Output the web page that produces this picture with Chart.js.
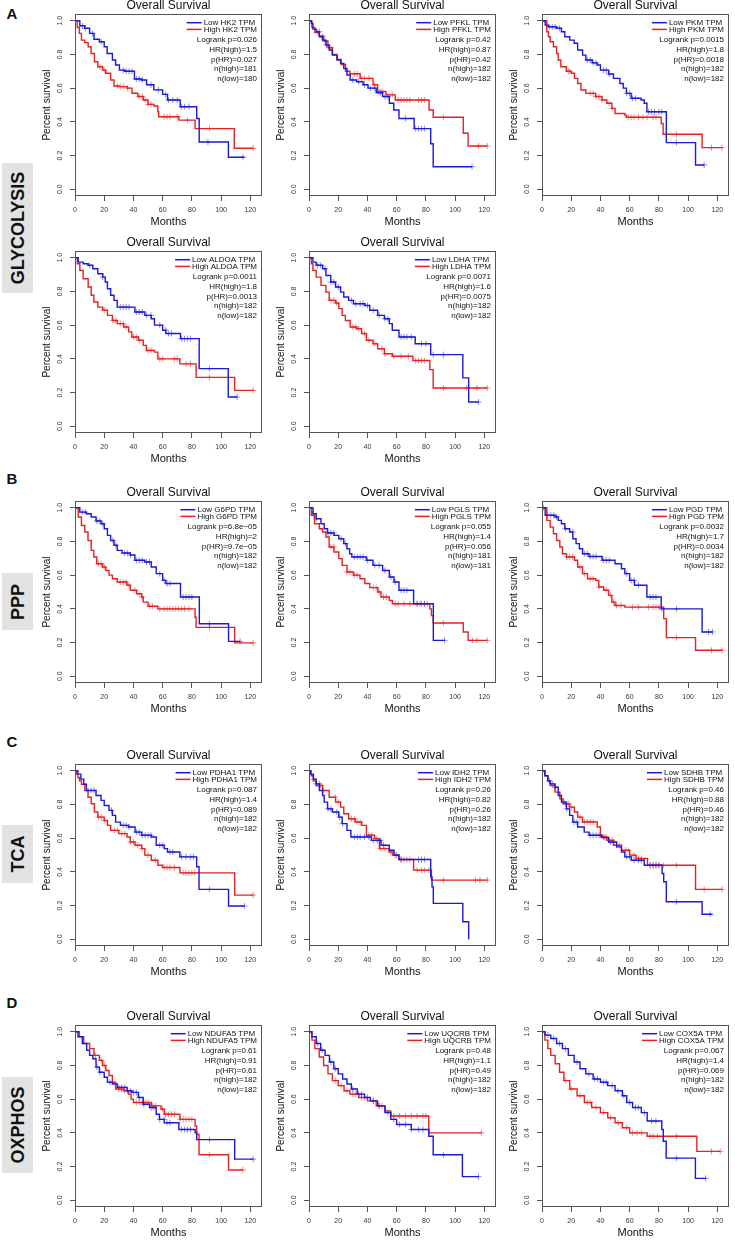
<!DOCTYPE html>
<html>
<head>
<meta charset="utf-8">
<script src="https://cdn.jsdelivr.net/npm/chart.js@4.4.0/dist/chart.umd.min.js"></script>
<style>
  body { margin: 0; background: #fff; width: 735px; height: 1240px; position: relative; overflow: hidden;
         font-family: "Liberation Sans", Arial, sans-serif; }
  canvas { position: absolute; }
  .sec { position: absolute; font-weight: bold; font-size: 15px; color: #111; transform: translate(-50%, -50%); }
  .grp { position: absolute; left: 2px; width: 31px; background: #e2e2e2; }
  .grp span { position: absolute; left: 50%; top: 50%; transform: translate(-50%, -50%) rotate(-90deg);
              font-weight: bold; font-size: 18px; color: #111; white-space: nowrap; }
</style>
</head>
<body>
<div class="sec" style="left:12px;top:13px">A</div>
<div class="sec" style="left:12px;top:478px">B</div>
<div class="sec" style="left:12px;top:741px">C</div>
<div class="sec" style="left:12px;top:1002px">D</div>
<div class="grp" style="top:163px;height:130px"><span>GLYCOLYSIS</span></div>
<div class="grp" style="top:573px;height:57px"><span>PPP</span></div>
<div class="grp" style="top:825px;height:58px"><span>TCA</span></div>
<div class="grp" style="top:1077px;height:96px"><span>OXPHOS</span></div>

<script>
const FONT = '"Liberation Sans", Arial, sans-serif';
const BLUE = '#1a1ad8';
const RED = '#e52222';
const BLUE_C = 'rgba(40,40,230,0.55)';
const RED_C = 'rgba(235,40,40,0.55)';

const xTicks = [0, 20, 40, 60, 80, 100, 120];
const yTicks = [0, 0.2, 0.4, 0.6, 0.8, 1.0];

// [month, survival] at each drop (last pair = end of follow-up); censor times in months
const hk2Low = [[0,1],[3.3,0.97],[6.7,0.955],[10,0.925],[13,0.89],[16.7,0.875],[20,0.846],[22,0.806],[25.6,0.767],[27.8,0.737],[30.4,0.707],[34,0.70],[40.7,0.654],[45.6,0.648],[49,0.62],[54,0.59],[60,0.563],[63.3,0.53],[72,0.49],[83.3,0.42],[85,0.28],[105,0.19],[116,0.19]];
const hk2LowCens = [5,7,12,18,33,35,37,39,42,44,46,52,57,62,64,67,70,73,75,78,91,115];
const hk2High = [[0,1],[1.5,0.96],[3,0.925],[4.4,0.885],[6.7,0.87],[9,0.846],[11,0.806],[13.3,0.757],[15.6,0.727],[19,0.707],[21,0.688],[24.4,0.648],[26.7,0.613],[30,0.609],[35.6,0.6],[39,0.57],[43,0.55],[46.7,0.53],[50,0.504],[54,0.494],[56.7,0.46],[57.3,0.43],[71.1,0.41],[82.2,0.36],[109,0.243],[122,0.243]];
const hk2HighCens = [17,20,29,31,33,36,44,46,48,50,52,61,63,65,70,77,92,122];
const hk2Stats = ['Logrank p=0.026', 'HR(high)=1.5', 'p(HR)=0.027', 'n(high)=181', 'n(low)=180'];

const pfklLow = [[0,1],[1.6,0.984],[2.7,0.95],[4.9,0.935],[7.1,0.905],[9.3,0.885],[11.6,0.856],[13.8,0.826],[16,0.796],[19.3,0.767],[21.6,0.747],[23.8,0.717],[26,0.678],[28.2,0.648],[32.7,0.638],[37,0.62],[40.4,0.6],[46,0.573],[50.4,0.55],[55,0.51],[58,0.47],[61.6,0.42],[72,0.36],[83.3,0.27],[85,0.134],[111.6,0.134]];
const pfklLowCens = [7,9,12,30,34,38,42,45,49,52,54,66,73,75,77,79,111.6];
const pfklHigh = [[0,1],[2,0.96],[4,0.93],[7,0.91],[10,0.88],[13,0.84],[16,0.8],[19,0.77],[22,0.74],[25,0.7],[28,0.685],[35,0.658],[43.8,0.62],[47,0.58],[52.7,0.56],[59,0.53],[82.2,0.47],[85,0.427],[105.6,0.332],[108.9,0.257],[122,0.257]];
const pfklHighCens = [6,11,15,31,33,36,38,41,45,48,50,57,61,63,65,67,69,75,77,79,92,116,122];
const pfklStats = ['Logrank p=0.42', 'HR(high)=0.87', 'p(HR)=0.42', 'n(high)=182', 'n(low)=182'];

const pkmLow = [[0,1],[2.2,0.974],[4.4,0.964],[10,0.955],[13.3,0.935],[15.6,0.905],[19,0.885],[22,0.866],[24.4,0.826],[27.8,0.796],[30,0.767],[34.4,0.75],[37.8,0.737],[40,0.707],[45.6,0.684],[48.9,0.658],[53.3,0.628],[55.6,0.6],[57.8,0.569],[61,0.54],[67.8,0.53],[70,0.51],[71.8,0.46],[85.1,0.277],[105.1,0.144],[111,0.144]];
const pkmLowCens = [5,7,9,12,31,33,35,37,42,44,46,58,60,62,64,73,75,77,80,82,92,111];
const pkmHigh = [[0,1],[3.3,0.935],[4.4,0.905],[5.6,0.875],[7.8,0.846],[10,0.806],[11.1,0.767],[12.9,0.727],[16.7,0.7],[20,0.688],[22.2,0.658],[24.4,0.628],[26.7,0.589],[30,0.569],[36.7,0.55],[41,0.53],[44.4,0.51],[47.8,0.48],[50,0.45],[56.7,0.44],[57.8,0.427],[81.6,0.39],[82.9,0.326],[109.6,0.247],[123.3,0.247]];
const pkmHighCens = [18,19,33,35,37,39,41,46,48,59,61,63,66,69,72,76,78,92,116,123.3];
const pkmStats = ['Logrank p=0.0015', 'HR(high)=1.8', 'p(HR)=0.0018', 'n(high)=182', 'n(low)=182'];

const aldoaLow = [[0,1],[2.2,0.974],[5.6,0.964],[9,0.955],[12.2,0.935],[15.6,0.905],[19,0.885],[20.7,0.856],[22.2,0.816],[24.4,0.777],[26.7,0.747],[28.9,0.707],[41,0.678],[47.8,0.658],[52.2,0.638],[54.4,0.6],[60,0.57],[62.2,0.55],[72.2,0.52],[85,0.342],[104.9,0.174],[111,0.174]];
const aldoaLowCens = [10,19,31,33,35,37,42,44,46,49,52,58,62,64,66,73,75,77,79,92,111];
const aldoaHigh = [[0,1],[1.6,0.964],[3.3,0.925],[5.6,0.875],[9,0.826],[11.1,0.777],[12.9,0.737],[15.6,0.707],[19,0.688],[22.2,0.658],[25.6,0.628],[28.9,0.609],[33.3,0.589],[36.7,0.56],[38.9,0.53],[43.3,0.51],[46.7,0.48],[48.9,0.45],[54.4,0.44],[56.7,0.4],[71.8,0.37],[82.9,0.29],[109.3,0.213],[122,0.213]];
const aldoaHighCens = [20,26,28,31,33,35,40,42,44,50,52,58,60,68,70,76,79,92,122];
const aldoaStats = ['Logrank p=0.0011', 'HR(high)=1.8', 'p(HR)=0.0013', 'n(high)=182', 'n(low)=182'];

const ldhaLow = [[0,1],[2.7,0.974],[4.9,0.955],[9.3,0.935],[11.6,0.895],[14.9,0.856],[18.2,0.826],[21.6,0.796],[23.8,0.767],[27.1,0.747],[30.4,0.727],[38.2,0.717],[41.6,0.688],[47,0.658],[51.6,0.638],[55,0.609],[57,0.57],[61.6,0.53],[72.7,0.49],[83.3,0.425],[105.3,0.287],[109.3,0.144],[116,0.144]];
const ldhaLowCens = [6,8,11,15,17,20,29,32,35,37,40,44,48,52,54,63,65,67,70,77,80,85,92,116];
const ldhaHigh = [[0,1],[1.6,0.964],[2.7,0.925],[4.9,0.885],[8.2,0.836],[11.6,0.796],[13.8,0.747],[18.2,0.731],[20.4,0.698],[22.7,0.658],[24.9,0.628],[28.2,0.589],[32.7,0.579],[36,0.55],[39.3,0.51],[43.8,0.49],[47,0.46],[51.6,0.43],[57,0.415],[71.1,0.39],[82.7,0.336],[85,0.227],[122,0.227]];
const ldhaHighCens = [15,17,19,30,32,34,38,41,45,50,52,58,63,68,73,75,77,79,92,108,115,122];
const ldhaStats = ['Logrank p=0.0071', 'HR(high)=1.6', 'p(HR)=0.0075', 'n(high)=182', 'n(low)=182'];

const g6pdLow = [[0,1],[3.3,0.974],[7.8,0.964],[11.1,0.945],[14.4,0.921],[17.8,0.905],[20,0.875],[22.2,0.836],[24.4,0.806],[26.7,0.777],[28.9,0.747],[32.2,0.731],[37.8,0.72],[41,0.688],[47.8,0.678],[52.2,0.648],[55.6,0.609],[60,0.569],[62.2,0.55],[72.2,0.47],[85.1,0.312],[105.1,0.207],[113,0.207]];
const g6pdLowCens = [5,7,15,17,19,26,28,34,36,38,42,44,46,49,51,58,61,63,65,74,76,78,80,92,113];
const g6pdHigh = [[0,1],[2.2,0.945],[4.4,0.895],[6.7,0.856],[8.9,0.806],[11.1,0.747],[12.9,0.708],[14.9,0.668],[18.9,0.648],[21.1,0.628],[23.3,0.6],[25.6,0.579],[28.9,0.559],[35.6,0.54],[37.8,0.51],[42.2,0.49],[45.6,0.47],[46.7,0.44],[50,0.415],[56.7,0.4],[82.2,0.35],[82.9,0.29],[109.3,0.198],[122,0.198]];
const g6pdHighCens = [16,18,20,31,33,35,37,41,44,46,51,53,58,61,63,65,67,69,71,73,75,78,92,122];
const g6pdStats = ['Logrank p=6.8e\u221205', 'HR(high)=2', 'p(HR)=9.7e\u221205', 'n(high)=182', 'n(low)=182'];

const pglsLow = [[0,1],[2.7,0.964],[4.9,0.935],[8.2,0.905],[10.4,0.875],[12.7,0.85],[17.1,0.836],[20.4,0.816],[23.8,0.787],[26,0.757],[27.8,0.727],[29.3,0.708],[39.3,0.688],[43.8,0.658],[50.4,0.628],[55,0.589],[58.2,0.559],[61.6,0.51],[71.6,0.43],[85.1,0.213],[92.7,0.213]];
const pglsLowCens = [3,5,13,15,17,22,25,31,33,35,37,40,45,48,52,56,59,63,65,67,74,76,79,81,92.7];
const pglsHigh = [[0,1],[1.6,0.955],[3.8,0.905],[7.1,0.875],[9.3,0.856],[11.6,0.826],[13.8,0.767],[17.1,0.737],[20.4,0.698],[22.7,0.658],[26,0.619],[30.4,0.6],[34.9,0.579],[38.2,0.55],[41.6,0.526],[47.1,0.5],[49.3,0.47],[55,0.45],[57.1,0.43],[82.7,0.4],[83.8,0.36],[85,0.316],[105.6,0.263],[108.9,0.213],[122,0.213]];
const pglsHighCens = [15,17,26,28,31,33,44,46,48,51,53,59,61,65,69,74,77,79,92,112,115,122];
const pglsStats = ['Logrank p=0.055', 'HR(high)=1.4', 'p(HR)=0.056', 'n(high)=181', 'n(low)=181'];

const pgdLow = [[0,1],[2.2,0.955],[8.9,0.945],[11.1,0.925],[13.3,0.905],[15.6,0.875],[18.9,0.856],[21.1,0.816],[23.3,0.787],[25.6,0.757],[27.8,0.727],[32.2,0.711],[41.1,0.688],[50,0.668],[54.4,0.638],[56.7,0.609],[60,0.569],[63.3,0.54],[71.8,0.47],[81.6,0.4],[109.6,0.263],[116.7,0.263]];
const pgdLowCens = [4,6,8,10,16,21,29,31,33,35,37,42,44,46,58,61,63,66,74,76,78,82,92,114,116.7];
const pgdHigh = [[0,1],[3.3,0.925],[5.6,0.885],[7.8,0.846],[10,0.806],[12.2,0.767],[14,0.727],[16.7,0.708],[22.2,0.688],[24.4,0.648],[27.8,0.609],[31.1,0.579],[36.7,0.569],[38.9,0.53],[42.2,0.51],[45.6,0.48],[47.8,0.44],[50,0.42],[56.7,0.41],[83.3,0.342],[85.1,0.229],[105.1,0.154],[123.3,0.154]];
const pgdHighCens = [1,17,19,21,26,29,33,35,39,44,47,49,51,54,62,66,73,76,78,80,92,116,123.3];
const pgdStats = ['Logrank p=0.0032', 'HR(high)=1.7', 'p(HR)=0.0034', 'n(high)=182', 'n(low)=182'];

const pdha1Low = [[0,1],[2,0.98],[4,0.95],[6,0.92],[7.8,0.883],[14.4,0.853],[17.8,0.824],[20,0.794],[23.3,0.765],[25.6,0.735],[27.8,0.695],[31.1,0.676],[36.7,0.666],[41.1,0.636],[45.6,0.617],[52.2,0.607],[55.6,0.558],[61.1,0.538],[63.3,0.518],[71.8,0.489],[83.3,0.43],[84.9,0.296],[105.1,0.197],[116,0.197]];
const pdha1LowCens = [9,11,13,25,33,35,37,42,44,46,48,50,52,58,60,65,67,73,76,79,81,92,116];
const pdha1High = [[0,1],[1,0.98],[2,0.96],[3,0.94],[4.4,0.92],[6.7,0.883],[8.9,0.843],[11.1,0.804],[13.3,0.755],[15.6,0.725],[20,0.705],[22.2,0.676],[24.4,0.646],[30,0.627],[35.6,0.607],[37.8,0.577],[41.1,0.558],[45.6,0.538],[47.8,0.499],[52.2,0.469],[56.7,0.439],[60,0.426],[71.8,0.394],[109.3,0.262],[122,0.262]];
const pdha1HighCens = [16,18,20,27,29,32,34,38,40,43,46,50,55,61,63,65,68,74,76,78,80,82,122];
const pdha1Stats = ['Logrank p=0.087', 'HR(high)=1.4', 'p(HR)=0.089', 'n(high)=182', 'n(low)=182'];

const idh2Low = [[0,1],[1,0.98],[3,0.95],[4.9,0.922],[7.1,0.883],[9.3,0.853],[10.4,0.814],[12.7,0.774],[16,0.755],[20.4,0.725],[22.7,0.686],[26,0.646],[28.7,0.607],[42.7,0.587],[49.3,0.558],[54.9,0.528],[58.2,0.499],[61.6,0.473],[83.3,0.37],[84.2,0.311],[85.1,0.213],[105.3,0.104],[109.3,0]];
const idh2LowCens = [3,5,7,13,15,19,21,23,31,33,35,38,41,44,47,49,51,60,63,75,77,79];
const idh2High = [[0,1],[1.5,0.97],[3,0.94],[4.9,0.912],[9.3,0.883],[13.8,0.843],[18.2,0.814],[21.6,0.784],[23.8,0.745],[27.1,0.715],[31.6,0.696],[36,0.676],[39.3,0.617],[44.9,0.597],[48.2,0.538],[54.9,0.518],[57.1,0.499],[61.6,0.473],[71.6,0.41],[83.8,0.351],[122,0.351]];
const idh2HighCens = [8,10,18,20,29,31,33,35,41,43,46,49,52,56,59,63,65,67,69,74,77,79,82,92,114,117,122];
const idh2Stats = ['Logrank p=0.26', 'HR(high)=0.82', 'p(HR)=0.26', 'n(high)=182', 'n(low)=182'];

const sdhbLow = [[0,1],[2,0.97],[4,0.94],[5.6,0.922],[8.9,0.902],[11.1,0.853],[13.3,0.814],[16.7,0.774],[18.9,0.735],[21.1,0.695],[24.4,0.666],[28.9,0.636],[32.2,0.617],[41.1,0.603],[45.6,0.577],[51.1,0.548],[54.4,0.518],[56.7,0.489],[61.1,0.469],[70,0.439],[82.2,0.39],[83.3,0.341],[85.1,0.223],[109.6,0.148],[116.7,0.148]];
const sdhbLowCens = [5,7,9,15,17,22,24,33,35,37,39,43,47,49,58,60,63,66,68,74,76,78,80,92,115];
const sdhbHigh = [[0,1],[2,0.97],[4,0.94],[5.6,0.912],[8.9,0.873],[12.2,0.833],[14.4,0.804],[18.9,0.784],[22.2,0.755],[24.4,0.725],[27.8,0.696],[37.8,0.666],[40,0.607],[44.4,0.587],[48.9,0.558],[54.4,0.528],[60,0.499],[64.4,0.479],[72.2,0.439],[105.1,0.296],[123.3,0.296]];
const sdhbHighCens = [16,18,20,26,29,31,33,35,42,44,46,48,51,53,57,59,63,66,68,74,76,78,80,83,92,111,123.3];
const sdhbStats = ['Logrank p=0.46', 'HR(high)=0.88', 'p(HR)=0.46', 'n(high)=182', 'n(low)=182'];

const ndufa5Low = [[0,1],[2,0.97],[5,0.93],[8,0.89],[10,0.86],[12.2,0.84],[14.4,0.79],[16.7,0.76],[20,0.73],[22.2,0.70],[25.6,0.69],[28.9,0.67],[35.6,0.65],[38.9,0.64],[43.3,0.61],[46.7,0.57],[51.1,0.55],[55.6,0.51],[57.8,0.48],[61.1,0.46],[71.1,0.42],[82.2,0.40],[83.3,0.36],[109.3,0.244],[122,0.244]];
const ndufa5LowCens = [15,17,24,30,32,34,36,38,40,42,44,47,52,54,58,61,63,65,73,75,77,79,92,122];
const ndufa5High = [[0,1],[3,0.97],[6,0.93],[10,0.9],[13,0.86],[16.7,0.83],[18.9,0.80],[21.1,0.77],[23.3,0.74],[25.6,0.70],[27.8,0.66],[33.3,0.65],[36.7,0.63],[38.4,0.60],[40,0.58],[52.2,0.56],[58.9,0.54],[61.1,0.51],[71.8,0.48],[82.2,0.44],[83.3,0.39],[84.9,0.27],[105.1,0.18],[115,0.18]];
const ndufa5HighCens = [14,18,20,30,32,34,36,42,44,46,48,50,53,55,60,62,64,66,68,72,74,76,78,80,92,115];
const ndufa5Stats = ['Logrank p=0.61', 'HR(high)=0.91', 'p(HR)=0.61', 'n(high)=182', 'n(low)=182'];

const uqcrbLow = [[0,1],[2,0.97],[5,0.93],[8,0.89],[11,0.86],[14,0.82],[17,0.78],[20,0.75],[23,0.72],[26,0.69],[29,0.66],[33,0.63],[38,0.61],[42,0.59],[47,0.56],[52,0.52],[56,0.48],[60,0.45],[70,0.42],[82,0.38],[85,0.27],[105,0.14],[116,0.14]];
const uqcrbLowCens = [6,9,15,18,30,34,36,40,44,48,54,58,62,66,70,75,78,92,116];
const uqcrbHigh = [[0,1],[2,0.95],[4,0.9],[7,0.85],[10,0.8],[13,0.75],[16,0.71],[20,0.68],[24,0.65],[28,0.63],[34,0.61],[40,0.59],[46,0.56],[52,0.53],[56,0.5],[82,0.4],[118,0.4]];
const uqcrbHighCens = [18,22,26,30,32,36,38,44,48,50,58,62,66,70,74,78,80,118];
const uqcrbStats = ['Logrank p=0.48', 'HR(high)=1.1', 'p(HR)=0.49', 'n(high)=182', 'n(low)=182'];

const cox5aLow = [[0,1],[2,0.98],[6,0.96],[10,0.93],[14,0.9],[18,0.86],[22,0.82],[26,0.78],[30,0.75],[35,0.72],[40,0.7],[45,0.68],[50,0.65],[55,0.62],[58,0.58],[62,0.55],[68,0.52],[72,0.47],[82,0.42],[83,0.35],[85,0.25],[105,0.13],[112,0.13]];
const cox5aLowCens = [4,8,12,16,24,32,36,38,42,44,48,52,56,60,64,66,70,75,78,92,112];
const cox5aHigh = [[0,1],[2,0.95],[4,0.9],[6,0.86],[9,0.81],[12,0.76],[15,0.71],[19,0.66],[24,0.62],[29,0.58],[34,0.55],[40,0.52],[45,0.49],[50,0.46],[55,0.43],[60,0.4],[72,0.38],[106,0.29],[122,0.29]];
const cox5aHighCens = [16,20,26,31,33,37,42,47,52,58,62,65,68,74,76,79,92,116,122];
const cox5aStats = ['Logrank p=0.067', 'HR(high)=1.4', 'p(HR)=0.069', 'n(high)=182', 'n(low)=182'];

const panels = [
  { gene: 'HK2', row: 0, col: 0, low: hk2Low, lowCens: hk2LowCens, high: hk2High, highCens: hk2HighCens, stats: hk2Stats },
  { gene: 'PFKL', row: 0, col: 1, low: pfklLow, lowCens: pfklLowCens, high: pfklHigh, highCens: pfklHighCens, stats: pfklStats },
  { gene: 'PKM', row: 0, col: 2, low: pkmLow, lowCens: pkmLowCens, high: pkmHigh, highCens: pkmHighCens, stats: pkmStats },
  { gene: 'ALDOA', row: 1, col: 0, low: aldoaLow, lowCens: aldoaLowCens, high: aldoaHigh, highCens: aldoaHighCens, stats: aldoaStats },
  { gene: 'LDHA', row: 1, col: 1, low: ldhaLow, lowCens: ldhaLowCens, high: ldhaHigh, highCens: ldhaHighCens, stats: ldhaStats },
  { gene: 'G6PD', row: 2, col: 0, low: g6pdLow, lowCens: g6pdLowCens, high: g6pdHigh, highCens: g6pdHighCens, stats: g6pdStats },
  { gene: 'PGLS', row: 2, col: 1, low: pglsLow, lowCens: pglsLowCens, high: pglsHigh, highCens: pglsHighCens, stats: pglsStats },
  { gene: 'PGD', row: 2, col: 2, low: pgdLow, lowCens: pgdLowCens, high: pgdHigh, highCens: pgdHighCens, stats: pgdStats },
  { gene: 'PDHA1', row: 3, col: 0, low: pdha1Low, lowCens: pdha1LowCens, high: pdha1High, highCens: pdha1HighCens, stats: pdha1Stats },
  { gene: 'IDH2', row: 3, col: 1, low: idh2Low, lowCens: idh2LowCens, high: idh2High, highCens: idh2HighCens, stats: idh2Stats },
  { gene: 'SDHB', row: 3, col: 2, low: sdhbLow, lowCens: sdhbLowCens, high: sdhbHigh, highCens: sdhbHighCens, stats: sdhbStats },
  { gene: 'NDUFA5', row: 4, col: 0, low: ndufa5Low, lowCens: ndufa5LowCens, high: ndufa5High, highCens: ndufa5HighCens, stats: ndufa5Stats },
  { gene: 'UQCRB', row: 4, col: 1, low: uqcrbLow, lowCens: uqcrbLowCens, high: uqcrbHigh, highCens: uqcrbHighCens, stats: uqcrbStats },
  { gene: 'COX5A', row: 4, col: 2, low: cox5aLow, lowCens: cox5aLowCens, high: cox5aHigh, highCens: cox5aHighCens, stats: cox5aStats }
];

// layout of the grid (plot area top-left corners)
const rowTops = [14, 251, 501, 764, 1025];
const colLefts = [75, 309, 542];
const PLOT_W = 192, PLOT_H = 182, AXIS_W = 75, TOP_PAD = 14, AXIS_H = 40;

function survAt(steps, t) {
    let s = steps[0][1];
    for (const p of steps) if (p[0] <= t) s = p[1];
    return s;
}

const decor = {
    id: 'decor',
    afterDraw(chart, args, opts) {
        const { ctx, chartArea: a } = chart;
        ctx.save();
        ctx.strokeStyle = '#555';
        ctx.lineWidth = 1;
        ctx.strokeRect(a.left + 0.5, a.top + 0.5, a.right - a.left - 1, a.bottom - a.top - 1);

        ctx.fillStyle = '#111';
        ctx.font = '12px ' + FONT;
        ctx.textAlign = 'center';
        ctx.textBaseline = 'middle';
        ctx.fillText('Overall Survival', (a.left + a.right) / 2, a.top - 8);

        // legend
        const right = a.right - 5;
        ctx.font = '8px ' + FONT;
        const labels = ['Low ' + opts.gene + ' TPM', 'High ' + opts.gene + ' TPM'];
        const w = Math.max(...labels.map(l => ctx.measureText(l).width));
        const tx = right - w;
        labels.forEach((l, i) => {
            const y = a.top + 8.7 + i * 6.7;
            ctx.strokeStyle = i ? RED : BLUE;
            ctx.lineWidth = 1.5;
            ctx.beginPath();
            ctx.moveTo(tx - 17, y);
            ctx.lineTo(tx - 2, y);
            ctx.stroke();
            ctx.textAlign = 'left';
            ctx.fillText(l, tx, y);
        });
        ctx.textAlign = 'right';
        opts.stats.forEach((s, i) => ctx.fillText(s, right, a.top + 26 + i * 9.7));
        ctx.restore();
    }
};

function makePanel(p) {
    const cv = document.createElement('canvas');
    cv.width = AXIS_W + PLOT_W;
    cv.height = TOP_PAD + PLOT_H + AXIS_H;
    cv.style.left = (colLefts[p.col] - AXIS_W) + 'px';
    cv.style.top = (rowTops[p.row] - TOP_PAD) + 'px';
    document.body.appendChild(cv);

    const tickFont = { size: 7, family: FONT };
    new Chart(cv.getContext('2d'), {
        type: 'line',
        data: {
            datasets: [
                { data: p.low.map(d => ({ x: d[0], y: d[1] })), stepped: true, borderColor: BLUE, borderWidth: 1.4, pointRadius: 0, fill: false },
                { data: p.high.map(d => ({ x: d[0], y: d[1] })), stepped: true, borderColor: RED, borderWidth: 1.4, pointRadius: 0, fill: false },
                { data: p.lowCens.map(t => ({ x: t, y: survAt(p.low, t) })), showLine: false, pointStyle: 'cross', pointRadius: 3, borderColor: BLUE_C, borderWidth: 1 },
                { data: p.highCens.map(t => ({ x: t, y: survAt(p.high, t) })), showLine: false, pointStyle: 'cross', pointRadius: 3, borderColor: RED_C, borderWidth: 1 }
            ]
        },
        options: {
            responsive: false,
            animation: false,
            events: [],
            layout: { padding: { top: TOP_PAD, left: 0, right: 0, bottom: 0 } },
            scales: {
                x: {
                    type: 'linear', min: 0, max: 128,
                    afterBuildTicks: s => { s.ticks = xTicks.map(v => ({ value: v })); },
                    afterFit: s => { s.height = AXIS_H; },
                    grid: { display: true, drawOnChartArea: false, drawTicks: true, tickLength: 5, color: '#555' },
                    border: { display: false },
                    ticks: { font: tickFont, color: '#333', padding: 5, maxRotation: 0, autoSkip: false },
                    title: { display: true, text: 'Months', font: { size: 11, family: FONT }, color: '#111', padding: { top: 0, bottom: 7 } }
                },
                y: {
                    type: 'linear', min: -0.04, max: 1.04,
                    afterBuildTicks: s => { s.ticks = yTicks.map(v => ({ value: v })); },
                    afterFit: s => { s.width = AXIS_W; },
                    grid: { display: true, drawOnChartArea: false, drawTicks: true, tickLength: 5, color: '#555' },
                    border: { display: false },
                    ticks: { font: tickFont, color: '#333', padding: 5, minRotation: 90, maxRotation: 90, crossAlign: 'center',
                             autoSkip: false, callback: v => v.toFixed(1) },
                    title: { display: true, text: 'Percent survival', font: { size: 10, family: FONT }, color: '#111', padding: { top: 41, bottom: 0 } }
                }
            },
            plugins: {
                legend: { display: false },
                tooltip: { enabled: false },
                decor: { gene: p.gene, stats: p.stats }
            }
        },
        plugins: [decor]
    });
}

panels.forEach(makePanel);
</script>
</body>
</html>
